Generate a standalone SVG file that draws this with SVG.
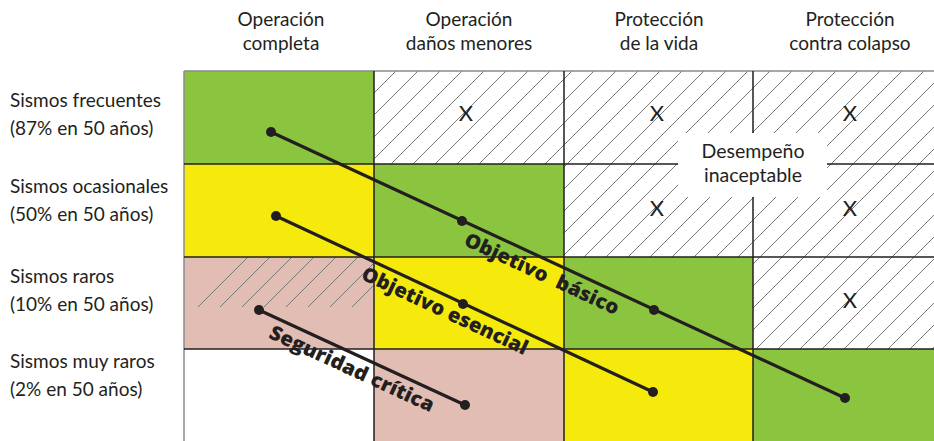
<svg xmlns="http://www.w3.org/2000/svg" width="934" height="441" viewBox="0 0 934 441">
<defs>
<style>
.t{font-family:Lato,"Open Sans","Liberation Sans",sans-serif;font-size:19px;fill:#231f20}
.h{text-anchor:middle}
.x{font-family:Lato,"Liberation Sans",sans-serif;font-size:22px;font-weight:400;fill:#231f20;text-anchor:middle}
.lab{font-family:"Open Sans",Lato,"Liberation Sans",sans-serif;font-size:20px;font-weight:800;fill:#231f20;text-anchor:middle}
.g{fill:#8bc53f}.y{fill:#f5ea0c}.p{fill:#e2bdb3}.w{fill:#fff}
.hat{fill:url(#hatch)}
.grid{stroke:#231f20;stroke-width:1.5;fill:none}
.obj{stroke:#231f20;stroke-width:3.2;fill:none}
.dot{fill:#231f20}
</style>
<pattern id="hatch" patternUnits="userSpaceOnUse" width="22" height="22" x="0" y="5">
<rect width="22" height="22" fill="#fff"/>
<path d="M0,22 L22,0 M-5.5,5.5 L5.5,-5.5 M16.5,27.5 L27.5,16.5" stroke="#7a7a7a" stroke-width="1"/>
</pattern>
<clipPath id="pinkclip"><rect x="184" y="257" width="190" height="50"/></clipPath>
</defs>

<g id="headers">
<text class="t h" x="281" y="26">Operación</text>
<text class="t h" x="281" y="50">completa</text>
<text class="t h" x="469" y="26">Operación</text>
<text class="t h" x="469" y="50">daños menores</text>
<text class="t h" x="659" y="26">Protección</text>
<text class="t h" x="659" y="50">de la vida</text>
<text class="t h" x="850" y="26">Protección</text>
<text class="t h" x="850" y="50">contra colapso</text>
</g>

<g id="rowlabels">
<text class="t" x="10" y="107">Sismos frecuentes</text>
<text class="t" x="10" y="135">(87% en 50 años)</text>
<text class="t" x="10" y="193">Sismos ocasionales</text>
<text class="t" x="10" y="221">(50% en 50 años)</text>
<text class="t" x="10" y="283">Sismos raros</text>
<text class="t" x="10" y="311">(10% en 50 años)</text>
<text class="t" x="10" y="368">Sismos muy raros</text>
<text class="t" x="10" y="396">(2% en 50 años)</text>
</g>

<g id="cells">
<rect class="g" x="184" y="71" width="190" height="93"/>
<rect class="hat" x="374" y="71" width="190" height="93"/>
<rect class="hat" x="564" y="71" width="189" height="93"/>
<rect class="hat" x="753" y="71" width="181" height="93"/>
<rect class="y" x="184" y="164" width="190" height="93"/>
<rect class="g" x="374" y="164" width="190" height="93"/>
<rect class="hat" x="564" y="164" width="189" height="93"/>
<rect class="hat" x="753" y="164" width="181" height="93"/>
<rect class="p" x="184" y="257" width="190" height="92"/>
<rect class="y" x="374" y="257" width="190" height="92"/>
<rect class="g" x="564" y="257" width="189" height="92"/>
<rect class="hat" x="753" y="257" width="181" height="92"/>
<rect class="w" x="184" y="349" width="190" height="92"/>
<rect class="p" x="374" y="349" width="190" height="92"/>
<rect class="y" x="564" y="349" width="189" height="92"/>
<rect class="g" x="753" y="349" width="181" height="92"/>
<g clip-path="url(#pinkclip)" stroke="#7a7a7a" stroke-width="1">
<path d="M198,307 L248,257 M220,307 L270,257 M242,307 L292,257 M264,307 L314,257 M286,307 L336,257 M308,307 L358,257 M330,307 L380,257 M352,307 L402,257"/>
</g>
</g>

<g id="grid">
<path d="M184,71 H934 M184,71 V441" stroke="#8a8a8a" stroke-width="1.5" fill="none"/>
<path class="grid" d="M184,164 H934 M184,257 H934 M184,349 H934 M374,71 V441 M564,71 V441 M753,71 V441"/>
</g>

<g id="marks">
<text class="x" x="466" y="121">X</text>
<text class="x" x="657" y="121">X</text>
<text class="x" x="850" y="121">X</text>
<text class="x" x="657" y="216">X</text>
<text class="x" x="850" y="216">X</text>
<text class="x" x="850" y="308">X</text>
</g>

<g id="inaceptable">
<rect x="678" y="133" width="149" height="64" fill="#fff"/>
<text class="t h" x="753" y="158" style="font-size:19.5px">Desempeño</text>
<text class="t h" x="753" y="182" style="font-size:19.5px">inaceptable</text>
</g>

<g id="connectors">
<path class="obj" d="M271,132 L845,398"/>
<path class="obj" d="M276,216 L653,392"/>
<path class="obj" d="M259,310 L465,405"/>
<circle class="dot" cx="271" cy="132" r="5"/>
<circle class="dot" cx="462" cy="221" r="5"/>
<circle class="dot" cx="654" cy="310" r="5"/>
<circle class="dot" cx="845" cy="398" r="5"/>
<circle class="dot" cx="276" cy="216" r="5"/>
<circle class="dot" cx="463" cy="304" r="5"/>
<circle class="dot" cx="653" cy="392" r="5"/>
<circle class="dot" cx="259" cy="310" r="5"/>
<circle class="dot" cx="465" cy="405" r="5"/>
</g>

<g id="labels">
<text class="lab" transform="translate(539,280) rotate(24.83)" textLength="168" lengthAdjust="spacingAndGlyphs" style="white-space:pre">Objetivo  básico</text>
<text class="lab" transform="translate(442,317) rotate(25)" textLength="181" lengthAdjust="spacingAndGlyphs">Objetivo esencial</text>
<text class="lab" transform="translate(349,375) rotate(24.76)" textLength="179" lengthAdjust="spacingAndGlyphs">Seguridad crítica</text>
</g>
</svg>
